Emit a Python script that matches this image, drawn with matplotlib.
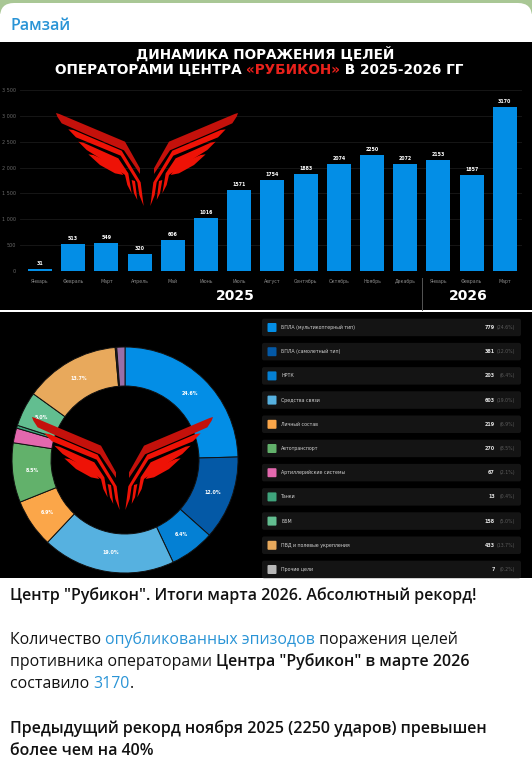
import math
import matplotlib
matplotlib.use("Agg")
import matplotlib.pyplot as plt
from matplotlib.patches import Polygon, FancyBboxPatch, Rectangle

W, H = 532, 763
months = ["Январь", "Февраль", "Март", "Апрель", "Май", "Июнь", "Июль", "Август", "Сентябрь",
          "Октябрь", "Ноябрь", "Декабрь", "Январь", "Февраль", "Март"]
strikes = [31, 513, 549, 320, 606, 1016, 1571, 1754, 1883, 2074, 2250, 2072, 2153, 1857, 3170]
yticks = [0, 500, 1000, 1500, 2000, 2500, 3000, 3500]
ylabels = ["0", "500", "1 000", "1 500", "2 000", "2 500", "3 000", "3 500"]
target_names = ["БПЛА (мультикоптерный тип)", "БПЛА (самолетный тип)", "НРТК", "Средства связи",
                "Личный состав", "Автотранспорт", "Артиллерийские системы", "Танки", "ББМ",
                "ПВД и полевые укрепления", "Прочие цели"]
target_values = [779, 381, 203, 603, 219, 270, 67, 13, 158, 433, 7]
target_shares = ["24.6%", "12.0%", "6.4%", "19.0%", "6.9%", "8.5%", "2.1%", "0.4%", "5.0%", "13.7%", "0.2%"]
target_colors = ["#038EE6", "#0459A6", "#0480D4", "#56B1E0", "#FBA649", "#62B16B", "#E368AE",
                 "#3FA47C", "#62BE90", "#E8A95C", "#B8B8B8"]
unlisted_value = [37]
unlisted_color = ["#9A6FA8"]

fig = plt.figure(figsize=(W / 100, H / 100), dpi=100, facecolor="white")
bg = fig.add_axes([0, 0, 1, 1], zorder=0)
bg.set_xlim(0, W); bg.set_ylim(H, 0); bg.axis("off")
top = fig.add_axes([0, 0, 1, 1], zorder=5)
top.set_xlim(0, W); top.set_ylim(H, 0); top.axis("off"); top.patch.set_alpha(0)

bg.add_patch(Rectangle((0, 0), W, 14, color="#A9C795", lw=0))
bg.add_patch(FancyBboxPatch((0, 3), W, 60, boxstyle="round,pad=0,rounding_size=14", color="white", lw=0))
bg.add_patch(Rectangle((0, 41.7), W, 267.8, color="black", lw=0))
bg.add_patch(Rectangle((0, 312), W, 266, color="black", lw=0))

def axes_px(x0, y0, x1, y1, z=2):
    return fig.add_axes([x0 / W, 1 - y1 / H, (x1 - x0) / W, (y1 - y0) / H], zorder=z)

def segments(x, y, parts, family, ax=top):
    r = fig.canvas.get_renderer()
    for s, c, w, size in parts:
        t = ax.text(x, y, s, color=c, fontsize=size, family=family, fontweight=w, va="baseline", ha="left")
        x += t.get_window_extent(r).width

# bar panel
x_first, step = 40.0, 33.2
ax = axes_px(20, 90, 522, 271, 2)
ax.set_facecolor("none")
ax.set_xlim((20 - x_first) / step, (522 - x_first) / step)
ax.set_ylim(0, 3500)
ax.bar(range(len(strikes)), strikes, width=0.72, color="#038EE6", zorder=3)
ax.set_yticks(yticks, ylabels, color="#6a6a6a", fontsize=3.5)
ax.set_xticks(range(len(months)), months, color="#8a8a8a", fontsize=3.4)
ax.tick_params(length=0, pad=6)
ax.tick_params(axis="y", pad=3)
ax.grid(axis="y", color="#1a1a1a", lw=0.6, zorder=0)
for s in ax.spines.values():
    s.set_visible(False)
for i, v in enumerate(strikes):
    ax.annotate(str(v), (i, v), xytext=(0, 3), textcoords="offset pixels", ha="center", va="bottom",
                color="white", fontsize=3.4, fontweight="bold")

# donut
d = axes_px(125 - 115, 460 - 115, 125 + 115, 460 + 115, 2)
d.set_facecolor("none")
vals = target_values + unlisted_value
cols = target_colors[:10] + ["#2b2b2b"] + unlisted_color
wedges, _ = d.pie(vals, colors=cols, startangle=90, counterclock=False, radius=113 / 115,
                  wedgeprops=dict(width=39 / 115, edgecolor="#111111", linewidth=0.7))
d.set_xlim(-1, 1); d.set_ylim(-1, 1)
cum = 0
total = sum(vals)
for v, lab in zip(vals, target_shares + [""]):
    mid = (cum + v / 2) / total * 2 * math.pi
    cum += v
    if v / total > 0.04:
        rr = 93.5 / 115
        d.text(rr * math.sin(mid), rr * math.cos(mid), lab, color="white", fontsize=3.4,
               fontweight="bold", ha="center", va="center")

# legend panel
for i, (n, v, sh, c) in enumerate(zip(target_names, target_values, target_shares, target_colors)):
    y = 318.7 + 24.2 * i
    bg.add_patch(FancyBboxPatch((262, y), 259, 17.5, boxstyle="round,pad=0,rounding_size=2", color="#141414", lw=0))
    bg.add_patch(FancyBboxPatch((267.5, y + 4.3), 9, 9, boxstyle="round,pad=0,rounding_size=1", color=c, lw=0))
    bg.text(281, y + 8.8, n, color="#d0d0d0", fontsize=3.4, va="center", family="DejaVu Sans")
    bg.text(495, y + 8.8, str(v), color="#e0e0e0", fontsize=3.5, fontweight="bold", va="center", ha="right")
    bg.text(515, y + 8.8, f"({sh})", color="#5c5c5c", fontsize=3.3, va="center", ha="right")

# logo: decoration traced in crop coordinates (3x)
LOGO = [
    [(18, 24), (28, 27), (225, 110), (270, 190), (270, 207), (222, 136), (100, 84), (35, 55), (22, 35)],
    [(55, 73), (70, 75), (215, 137), (272, 232), (281, 303), (268, 270), (262, 232), (212, 152), (78, 97)],
    [(85, 110), (100, 113), (205, 160), (235, 205), (245, 265), (232, 240), (225, 210), (190, 185), (110, 135)],
    [(115, 148), (130, 150), (200, 180), (220, 210), (195, 205), (150, 180)],
    [(245, 225), (255, 228), (262, 285), (252, 265)],
]
def logo(cx, x0, y0):
    for k, pts in enumerate(LOGO):
        col = "#C4110B" if k == 0 else "#EE1206"
        xy = [(x0 + (p - 18) / 3, y0 + (q - 24) / 3) for p, q in pts]
        top.add_patch(Polygon(xy, closed=True, color=col, lw=0))
        top.add_patch(Polygon([(2 * cx - a, b) for a, b in xy], closed=True, color=col, lw=0))
logo(147, 56, 113)
logo(122.5, 32, 417)

# titles
F = "Open Sans"
TS = 9.8
top.text(265, 59, "ДИНАМИКА ПОРАЖЕНИЯ ЦЕЛЕЙ", color="white", fontsize=TS, fontweight="bold", ha="center", va="baseline")
segments(55, 73.5, [("ОПЕРАТОРАМИ ЦЕНТРА ", "white", "bold", TS), ("«РУБИКОН»", "#E8211B", "bold", TS),
                    (" В 2025-2026 ГГ", "white", "bold", TS)], "DejaVu Sans")
top.text(235.5, 300, "2025", color="white", fontsize=10, fontweight="bold", ha="center", va="baseline")
top.text(468, 300, "2026", color="white", fontsize=10, fontweight="bold", ha="center", va="baseline")
top.plot([421.8, 421.8], [278, 309.5], color="#555555", lw=0.7)

# header + message
top.text(10, 30, "Рамзай", color="#2A94D6", fontsize=11.5, family=F, fontweight=600, va="baseline")
BK, BL = "#111111", "#2A94D6"
B, R, SB = 11.5, 11.45, 600
segments(10, 600, [('Центр "Рубикон". Итоги марта 2026. Абсолютный рекорд!', BK, SB, B)], F)
segments(10, 644, [("Количество ", BK, "normal", R), ("опубликованных эпизодов", BL, "normal", R),
                   (" поражения целей", BK, "normal", R)], F)
segments(10, 666, [("противника операторами ", BK, "normal", R), ('Центра "Рубикон" в марте 2026', BK, SB, B)], F)
segments(10, 688.5, [("составило ", BK, "normal", R), ("3170", BL, "normal", R), (".", BK, "normal", R)], F)
segments(10, 733, [("Предыдущий рекорд ноября 2025 (2250 ударов) превышен", BK, SB, B)], F)
segments(10, 755, [("более чем на 40%", BK, SB, B)], F)

fig.savefig("out.png", dpi=100, facecolor="white")
